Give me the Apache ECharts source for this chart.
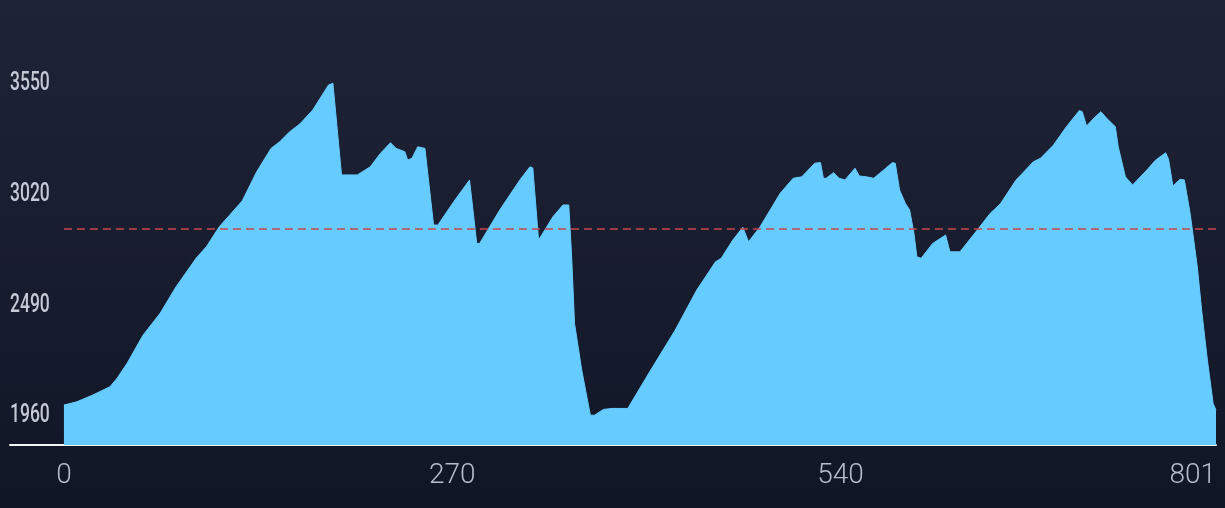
<!DOCTYPE html>
<html>
<head>
<meta charset="utf-8">
<script src="https://cdn.jsdelivr.net/npm/echarts@6/dist/echarts.min.js"></script>
<style>
  html, body { margin: 0; padding: 0; background: #12172a; }
  #chart { width: 1225px; height: 508px; }
</style>
</head>
<body>
<div id="chart"></div>
<script>
// Distance positions (x) and values (y)
const distances = [0, 9, 20, 32, 37, 44, 55, 67, 78, 92, 99, 108, 124, 134, 144, 150, 157, 164, 173, 184, 187,
  193, 204, 213, 220, 227, 231, 237, 239, 242, 246, 251, 257, 260, 271, 282, 287, 289, 303, 317, 324, 326, 330,
  340, 347, 351, 353, 355, 360, 366, 369, 375, 381, 392, 408, 425, 440, 453, 457, 465, 472, 476, 484, 498,
  507, 513, 522, 526, 528, 530, 535, 539, 543, 550, 553, 558, 563, 570, 576, 578, 581, 585, 588, 591, 593, 596,
  604, 613, 614, 616, 623, 635, 644, 651, 662, 674, 679, 688, 697, 706, 708, 711, 716, 721, 725, 731, 733, 738,
  743, 753, 759, 766, 768, 771, 776, 779, 783, 788, 791, 795, 799, 801];
const values = [2003, 2019, 2051, 2091, 2132, 2204, 2338, 2444, 2570, 2707, 2761, 2857, 2981, 3120, 3232, 3264, 3312, 3349, 3416, 3536, 3544,
  3105, 3105, 3144, 3208, 3259, 3232, 3216, 3176, 3185, 3240, 3232, 2865, 2865, 2977, 3081, 2777, 2777, 2937, 3081, 3144, 3138, 2793,
  2905, 2961, 2961, 2713, 2394, 2171, 1955, 1955, 1982, 1987, 1987, 2171, 2362, 2554, 2689, 2706, 2793, 2854, 2785, 2857, 3017,
  3089, 3096, 3161, 3164, 3089, 3089, 3116, 3089, 3081, 3137, 3100, 3096, 3089, 3129, 3164, 3161, 3033, 2969, 2937, 2825, 2713, 2706,
  2777, 2817, 2817, 2737, 2737, 2841, 2921, 2966, 3081, 3168, 3185, 3248, 3336, 3413, 3408, 3339, 3376, 3408, 3376, 3336, 3240, 3096,
  3057, 3129, 3176, 3211, 3180, 3052, 3084, 3081, 2921, 2665, 2458, 2219, 2011, 1979];
const yTickLabels = [1960, 2490, 3020, 3550];
const xTickLabels = [0, 270, 540, 801];
const averageValue = 2846;

const seriesData = distances.map((d, i) => [d, values[i]]);

const chart = echarts.init(document.getElementById('chart'), null, { renderer: 'canvas' });
chart.setOption({
  animation: false,
  backgroundColor: {
    type: 'linear', x: 0, y: 0, x2: 0, y2: 1,
    colorStops: [{ offset: 0, color: '#1f2336' }, { offset: 1, color: '#111627' }]
  },
  grid: { left: 10, right: 9, top: 40, bottom: 63 },
  xAxis: {
    type: 'value',
    min: -37.5,
    max: 801,
    splitLine: { show: false },
    axisTick: { show: false },
    axisLine: { show: true, onZero: false, lineStyle: { color: '#f2f4f8', width: 2 } },
    axisLabel: {
      customValues: xTickLabels,
      color: '#b7bbca',
      fontSize: 28,
      fontFamily: 'Roboto, "Noto Sans", sans-serif',
      fontWeight: 300,
      margin: 17,
      alignMaxLabel: 'right'
    }
  },
  yAxis: {
    type: 'value',
    min: 1812,
    max: 3751,
    splitLine: { show: false },
    axisTick: { show: false },
    axisLine: { show: false },
    axisLabel: { show: false }
  },
  series: [{
    type: 'line',
    data: seriesData,
    showSymbol: false,
    smooth: false,
    lineStyle: { color: '#66ccff', width: 1 },
    areaStyle: { color: '#66ccff', opacity: 1, origin: 'start' },
    z: 2,
    markLine: {
      silent: true,
      symbol: 'none',
      label: { show: false },
      lineStyle: { color: '#c9464f', type: [8, 5], width: 1.5 },
      data: [[{ coord: [0, averageValue] }, { coord: [801, averageValue] }]]
    }
  }]
});

// Condensed y-axis tick labels placed through the y axis scale
const leftPx = chart.convertToPixel({ xAxisIndex: 0 }, -37.5);
chart.setOption({
  graphic: yTickLabels.map(v => ({
    type: 'text',
    x: leftPx,
    y: chart.convertToPixel({ yAxisIndex: 0 }, v) + 2,
    scaleX: 0.7,
    z: 10,
    style: {
      text: String(v),
      fill: '#c5c9d6',
      font: '500 25px Roboto, "Noto Sans", sans-serif',
      align: 'left',
      verticalAlign: 'middle',
      textAlign: 'left',
      textVerticalAlign: 'middle'
    }
  }))
});
</script>
</body>
</html>
